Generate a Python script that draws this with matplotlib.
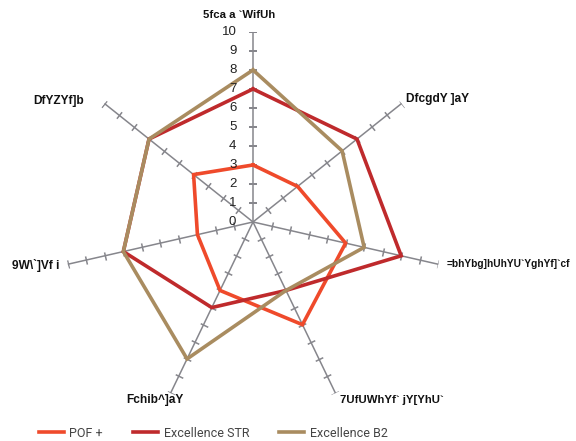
import matplotlib

matplotlib.use("Agg")
import matplotlib.pyplot as plt
import numpy as np

# axis labels clockwise from the top (text as shown in the chart)
categories = [
    "5fca a `WifUh",
    "DfcgdY ]aY",
    "=bhYbg]hUhYU`YghYf]`cf",
    "7UfUWhYf` jY[YhU`",
    "Fchib^]aY",
    "9W\\`]Vf i",
    "DfYZYf]b",
]
pof_plus = [3, 3, 5, 6, 4, 3, 4]
excellence_str = [7, 7, 8, 4, 5, 7, 7]
excellence_b2 = [8, 6, 6, 4, 8, 7, 7]
r_ticks = list(range(0, 11))

series = [
    ("POF +", pof_plus, "#ef4a2b"),
    ("Excellence STR", excellence_str, "#bf2a2c"),
    ("Excellence B2", excellence_b2, "#a98c60"),
]

# label placement: offset (points) from the axis end, alignment, size
label_style = [
    ((-10, 12), "center", 8.2),
    ((3, 3), "left", 8.6),
    ((6, 0), "left", 7.3),
    ((3, -5), "left", 8.2),
    ((9, -5), "right", 8.6),
    ((-6, -1), "right", 8.6),
    ((-15, 2), "right", 8.6),
]

n = len(categories)
theta = np.arange(n) * 2 * np.pi / n

fig = plt.figure(figsize=(5.76, 4.41), dpi=100)
ax = fig.add_axes([0.1094, 0.0658, 0.6597, 0.8617], projection="polar")
ax.set_theta_zero_location("N")
ax.set_theta_direction(-1)
ax.set_ylim(0, 10)
ax.grid(False)
ax.spines["polar"].set_visible(False)
ax.set_xticks([])
ax.set_yticks([])
ax.patch.set_alpha(0)

axis_color = "#86868c"
for t in theta:
    ax.plot([t, t], [0, 10], color=axis_color, linewidth=1.1, zorder=1)
    rot = 90 - np.degrees(t)
    ax.plot(np.full(10, t), r_ticks[1:], linestyle="none",
            marker=(2, 0, rot), markersize=6, markeredgewidth=1.1,
            color=axis_color, zorder=1)

for name, values, color in series:
    vals = values + values[:1]
    angs = np.append(theta, theta[0])
    ax.plot(angs, vals, color=color, linewidth=2.6, label=name, zorder=3,
            solid_joinstyle="miter")

for r in r_ticks:
    ax.annotate(str(r), xy=(0, r), xytext=(-12, 0), textcoords="offset points",
                ha="right", va="center", fontsize=9.5, color="#222222",
                family="Liberation Sans", zorder=4)

for t, label, (offset, ha, size) in zip(theta, categories, label_style):
    ax.annotate(label, xy=(t, 10), xytext=offset, textcoords="offset points",
                ha=ha, va="center", fontsize=size, fontweight="bold",
                color="#111111", family="Liberation Sans",
                annotation_clip=False)

fig.legend(loc="center", bbox_to_anchor=(0.37, 0.018), ncol=3,
           frameon=False, handlelength=2.0, handletextpad=0.45,
           columnspacing=2.4,
           prop={"family": "Roboto", "size": 9}, labelcolor="#444444")

fig.savefig("out.png", dpi=100)
